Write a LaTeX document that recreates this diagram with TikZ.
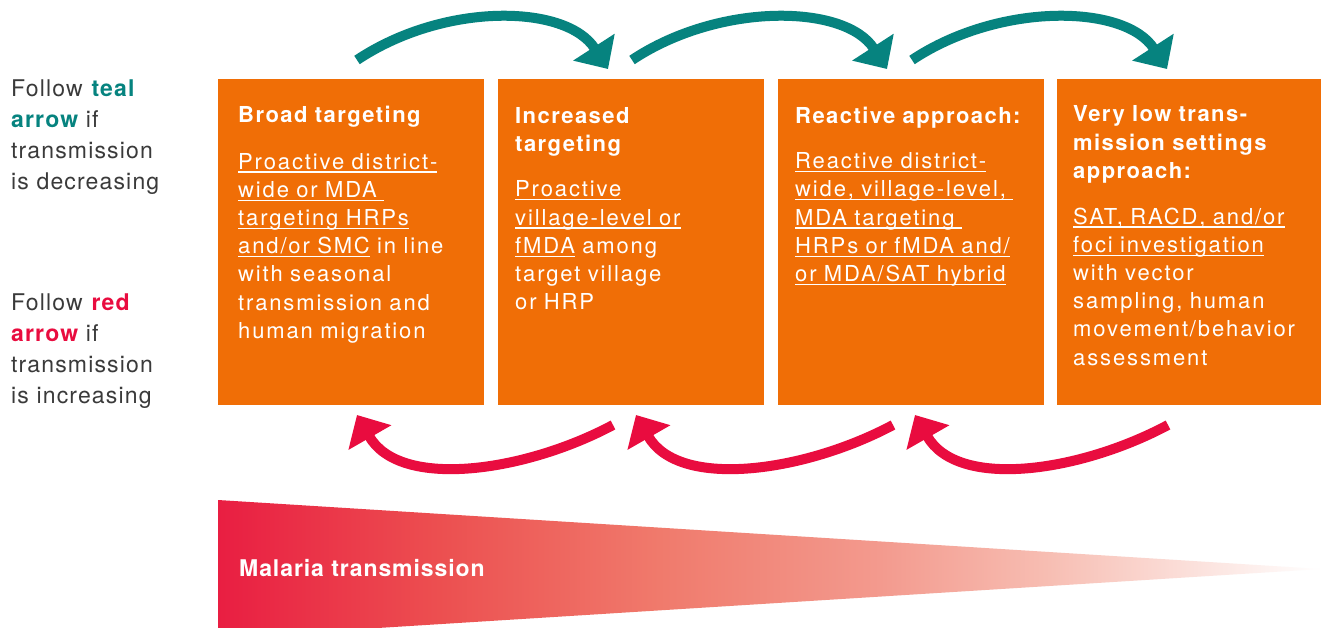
\documentclass[tikz,border=0pt]{standalone}
\usepackage{fontspec}
\setmainfont{TeX Gyre Heros}[LetterSpace=8.5]
\newfontfamily\boldfam{TeX Gyre Heros}[LetterSpace=6.5]
\newfontfamily\malfont{TeX Gyre Heros}[LetterSpace=4]
\newfontfamily\sidefont{TeX Gyre Heros}[LetterSpace=5]
\usetikzlibrary{arrows.meta,calc}
\definecolor{boxorange}{HTML}{F06E06}
\definecolor{tealc}{HTML}{06837F}
\definecolor{redc}{HTML}{E90C3F}
\definecolor{graytext}{HTML}{3A3A3A}
\definecolor{gradleft}{HTML}{E91E42}
\definecolor{gradA}{HTML}{EC4F50}
\definecolor{gradB}{HTML}{F07A6C}
\definecolor{gradC}{HTML}{F39A8E}
\definecolor{gradD}{HTML}{F7BDB2}
\pgfdeclarehorizontalshading{wedgeshade}{100bp}{color(0bp)=(gradleft); color(25bp)=(gradleft); color(35bp)=(gradA); color(45bp)=(gradB); color(55bp)=(gradC); color(62.5bp)=(gradD); color(75bp)=(white); color(100bp)=(white)}
\newcommand\uln[1]{\leavevmode\setbox0\hbox{#1}\rlap{\rule[-3.6pt]{\wd0}{1.3pt}}\box0\relax}
\newcommand\stagetitle[1]{{\boldfam\bfseries #1}}
\begin{document}
\begin{tikzpicture}[x=1pt,y=-1pt,
  stage/.style={fill=boxorange, draw=none, minimum width=266pt, minimum height=326pt, anchor=north west, inner sep=0pt, outer sep=0pt},
  stagetext/.style={anchor=north west, inner sep=0pt, text width=262pt, align=left, text=white, font=\fontsize{22}{28.2}\selectfont},
  side/.style={anchor=north west, inner sep=0pt, text width=200pt, align=left, text=graytext, font=\sidefont\fontsize{23}{31}\selectfont},
  tealarrow/.style={draw=tealc, line width=10pt, -{Triangle[length=26pt,width=48pt]}},
  redarrow/.style={draw=redc, line width=10pt, -{Triangle[length=26pt,width=48pt]}}
]
\useasboundingbox (0,0) rectangle (1321,628);
\fill[white] (0,0) rectangle (1321,628);

% gradient wedge
\begin{scope}
\clip (0,0) rectangle (1321,628);
\shade[shading=wedgeshade] (218,500) -- (1321,569) -- (218,638) -- cycle;
\end{scope}
\node[anchor=base west, inner sep=0pt, text=white, font=\malfont\fontsize{23}{28}\selectfont\bfseries] (mt) at (239,576) {Malaria transmission};

% boxes
\node[stage] (b1) at (218,79) {};
\node[stage] (b2) at (498,79) {};
\node[stage] (b3) at (778,79) {};
\node[stage] (b4) at (1057,79) {};

\node[stagetext] (t1) at (238,103) {\strut\stagetitle{Broad targeting}\\[18pt]
\uln{Proactive district-}\\
\uln{wide or MDA\ }\\
\uln{targeting HRPs}\\
\uln{and/or SMC} in line\\
with seasonal\\
transmission and\\
human migration};

\node[stagetext] (t2) at (515,103.5) {\strut\stagetitle{Increased}\\
\stagetitle{targeting}\\[17pt]
\uln{Proactive}\\
\uln{village-level or}\\
\uln{fMDA} among\\
target village\\
or HRP};

\node[stagetext] (t3) at (795,103.5) {\strut\stagetitle{Reactive approach:}\\[17pt]
\uln{Reactive district-}\\
\uln{wide, village-level,\ }\\
\uln{MDA targeting\ }\\
\uln{HRPs or fMDA and/}\\
\uln{or MDA/SAT hybrid}};

\node[stagetext, text width=245pt] (t4) at (1073,102) {\strut\stagetitle{Very low trans-}\\
\stagetitle{mission settings}\\
\stagetitle{approach:}\\[17.5pt]
\uln{SAT, RACD, and/or}\\
\uln{foci investigation}\\
with vector\\
sampling, human\\
movement/behavior\\
assessment};

% side legend
\node[side] (lt) at (11,75) {\strut Follow \textbf{\color{tealc}teal}\\
\textbf{\color{tealc}arrow} if\\
transmission\\
is decreasing};
\node[side] (lr) at (11,288.3) {\strut Follow \textbf{\color{redc}red}\\
\textbf{\color{redc}arrow} if\\
transmission\\
is increasing};

% arrow end points
\coordinate (ts1) at (357,60);  \coordinate (te1) at (608,69);
\coordinate (ts2) at (632,60);  \coordinate (te2) at (887,69);
\coordinate (ts3) at (912,60);  \coordinate (te3) at (1167,69);
\coordinate (rs1) at (613,425); \coordinate (re1) at (357,415);
\coordinate (rs2) at (893,425); \coordinate (re2) at (636,415);
\coordinate (rs3) at (1168,425); \coordinate (re3) at (915,415);

\foreach \i in {1,2,3} {
  \draw[tealarrow] (ts\i) .. controls ($(ts\i)+(87,-58)$) and ($(te\i)+(-42,-65)$) .. (te\i);
  \draw[redarrow] (rs\i) .. controls ($(rs\i)+(-88,47)$) and ($(re\i)+(43,75)$) .. (re\i);
}
\end{tikzpicture}
\end{document}
